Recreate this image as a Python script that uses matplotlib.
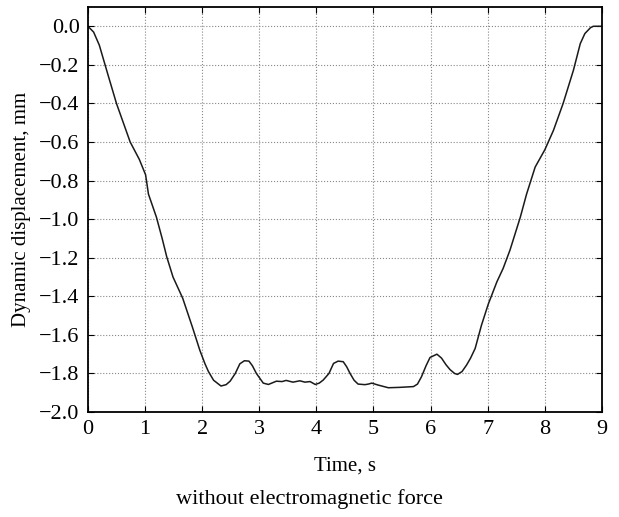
import numpy as np
import matplotlib.pyplot as plt

plt.rcParams['font.family'] = ['Liberation Serif', 'DejaVu Serif']

# values
timeS = [0.0, 0.1, 0.2, 0.35, 0.5, 0.62, 0.74, 0.9, 1.01, 1.06, 1.2, 1.30, 1.38,
         1.49, 1.66, 1.83, 1.96, 2.05, 2.11, 2.2, 2.33, 2.42, 2.49, 2.58, 2.66,
         2.74, 2.82, 2.88, 2.95, 3.07, 3.16, 3.3, 3.4, 3.47, 3.59, 3.71, 3.8,
         3.89, 3.98, 4.05, 4.12, 4.22, 4.30, 4.38, 4.47, 4.53, 4.59, 4.66, 4.73,
         4.85, 4.91, 4.97, 5.08, 5.26, 5.46, 5.58, 5.70, 5.77, 5.84, 5.92, 5.99,
         6.11, 6.19, 6.27, 6.34, 6.42, 6.47, 6.55, 6.63, 6.7, 6.78, 6.89, 7.01,
         7.16, 7.27, 7.39, 7.57, 7.68, 7.83, 8.0, 8.15, 8.32, 8.5, 8.62, 8.70,
         8.80, 8.85, 9.0]
dispMm = [0.0, -0.03, -0.098, -0.25, -0.40, -0.50, -0.60, -0.69, -0.77, -0.87,
          -0.99, -1.10, -1.195, -1.30, -1.41, -1.56, -1.68, -1.75, -1.79, -1.835,
          -1.865, -1.858, -1.84, -1.80, -1.75, -1.734, -1.736, -1.76, -1.80,
          -1.85, -1.857, -1.84, -1.842, -1.836, -1.845, -1.838, -1.845, -1.842,
          -1.857, -1.85, -1.834, -1.80, -1.748, -1.736, -1.739, -1.765, -1.80,
          -1.835, -1.855, -1.858, -1.855, -1.85, -1.86, -1.874, -1.872, -1.87,
          -1.868, -1.855, -1.817, -1.76, -1.717, -1.70, -1.72, -1.755, -1.78,
          -1.80, -1.805, -1.79, -1.756, -1.72, -1.67, -1.55, -1.44, -1.325,
          -1.255, -1.16, -0.99, -0.87, -0.73, -0.64, -0.54, -0.40, -0.228,
          -0.09, -0.038, -0.007, 0.0, 0.0]
xTicks = np.arange(0, 10, 1)
yTicks = np.round(np.arange(-2.0, 0.01, 0.2), 1)

fig = plt.figure(figsize=(6.19, 5.17), dpi=100)
ax = fig.add_axes([0.142, 0.203, 0.8305, 0.7835])
ax.plot(timeS, dispMm, color='#1a1a1a', linewidth=1.1)

ax.set_xlim(0, 9)
ax.set_ylim(-2.0, 0.1)
ax.set_xticks(xTicks)
ax.set_yticks(yTicks)
ax.set_yticklabels([('%.1f' % abs(v)) if v == 0 else ('\u2212%.1f' % abs(v)) for v in yTicks])
ax.grid(True, linestyle=':', color='#888888', linewidth=0.8)
ax.tick_params(direction='in', top=True, right=True, length=4, labelsize=16, pad=6)
for s in ax.spines.values():
    s.set_linewidth(1.3)

ax.set_xlabel('Time, s', fontsize=15, labelpad=12)
ax.set_ylabel('Dynamic displacement, mm', fontsize=15, labelpad=6)
fig.text(0.5, 0.025, 'without electromagnetic force', ha='center', fontsize=16)

fig.savefig('out.png', dpi=100)
